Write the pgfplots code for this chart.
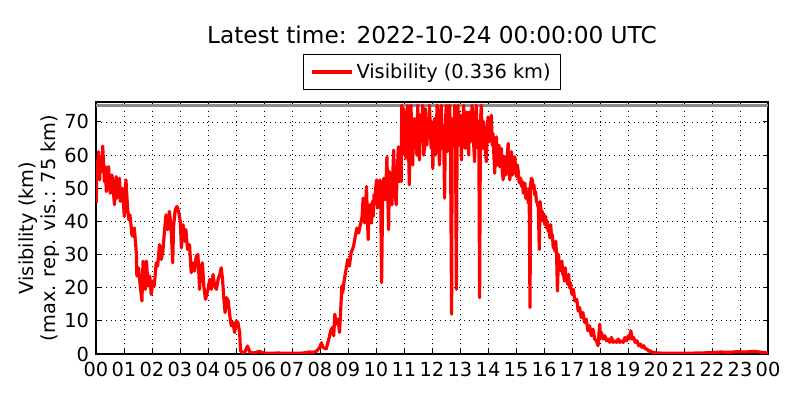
\documentclass[border=0pt]{standalone}
\usepackage{fontspec}
\setmainfont{DejaVu Sans}
\usepackage{pgfplots}
\pgfplotsset{compat=1.18}
\begin{document}
\begin{tikzpicture}
\useasboundingbox (0,0) rectangle (8in,4in);
\node[font=\fontsize{16.8}{20}\selectfont] at (4.32in,3.65in) {Latest time: 2022-10-24 00:00:00 UTC};
\begin{axis}[
  at={(0.96in,0.46in)}, anchor=south west,
  scale only axis, width=6.72in, height=2.52in,
  xmin=0, xmax=24, ymin=0, ymax=76,
  xtick={0,...,24},
  xticklabels={00,01,02,03,04,05,06,07,08,09,10,11,12,13,14,15,16,17,18,19,20,21,22,23,00},
  ytick={0,10,...,70},
  tick align=inside, major tick length=0.05in,
  tick style={black, line width=0.6pt},
  grid=major, grid style={black, line width=0.5pt, dash pattern=on 0.7pt off 2.8pt},
  axis line style={black, line width=0.8pt},
  ticklabel style={font=\fontsize{14}{16}\selectfont},
  xticklabel style={yshift=-2.5pt},
  yticklabel style={xshift=-1.5pt},
  /pgf/number format/assume math mode=true,
  ylabel={Visibility (km)\\(max. rep. vis.: 75 km)},
  ylabel style={align=center, font=\fontsize{14}{16}\selectfont, at={(axis description cs:-0.085,0.5)}, anchor=center},
  legend style={at={(0.5,1.119)}, anchor=center, draw=black, line width=0.8pt, font=\fontsize{14}{16}\selectfont, inner xsep=5pt, inner ysep=4.5pt},
  legend image code/.code={\draw[#1] (0in,0in) -- (0.4in,0in);},
]
\addplot[black!45, line width=2.6pt, forget plot] coordinates {(0,75)(24,75)};
\addplot[red, line width=2.3pt, line join=round] coordinates {
(0.01,45.5)(0.03,58)(0.06,56.5)(0.09,61)(0.13,52.5)(0.15,57)(0.18,59.5)(0.21,55)(0.24,62.7)(0.27,57.5)(0.3,52)(0.33,56.5)(0.37,49)(0.41,55)(0.45,56.5)(0.48,51)(0.51,48.5)(0.54,52)(0.57,54)(0.61,50)(0.66,45)(0.69,51)(0.72,53.5)(0.75,47)(0.78,48.5)(0.81,52)(0.84,53)(0.87,46)(0.9,47.5)(0.95,50)(1.01,41.5)(1.04,47)(1.07,52.5)(1.11,46.5)(1.14,43)(1.17,40.5)(1.21,42)(1.25,39)(1.28,36)(1.32,35.5)(1.37,38)(1.44,30.5)(1.46,23.5)(1.52,26)(1.58,20.5)(1.64,16)(1.68,28)(1.72,22)(1.76,19.5)(1.8,28)(1.86,20.5)(1.92,23.5)(1.97,18)(2.04,22)(2.08,20.5)(2.15,27.5)(2.2,26.5)(2.27,33)(2.33,28.5)(2.39,31)(2.44,36.5)(2.5,42)(2.56,37.5)(2.62,43)(2.68,38.5)(2.74,27.5)(2.77,38.5)(2.83,43.5)(2.89,44.5)(2.95,43)(3.01,40)(3.05,32)(3.11,39)(3.17,34)(3.21,37.5)(3.27,31.5)(3.34,33)(3.4,24.5)(3.45,27.5)(3.52,25)(3.58,29.5)(3.64,30)(3.7,19.5)(3.74,26)(3.8,27.5)
(3.85,20.5)(3.91,16.5)(4.0,19.5)(4.06,22.5)(4.12,19.5)(4.18,24)(4.24,20.5)(4.3,19.5)(4.36,22.5)(4.42,24)(4.47,26)(4.52,22.5)(4.56,17.5)(4.61,12.5)(4.66,17)(4.72,16)(4.78,11.5)(4.83,8.5)(4.89,9.5)(4.95,6.5)(5.01,10)(5.07,9.5)(5.13,6.5)(5.16,1)(5.22,0.5)(5.31,0.5)(5.41,2.4)(5.5,0.5)(5.62,0.3)(5.72,0.5)(5.83,0.8)(5.98,0.3)
(6.2,0.2)(6.5,0.3)(6.8,0.2)(7.1,0.2)(7.4,0.3)(7.63,0.6)
(7.75,0.5)(7.87,0.8)(7.99,2)(8.05,3.4)(8.1,2)(8.22,1.5)(8.32,4.6)(8.38,7)(8.44,8)(8.49,5.5)(8.53,12)(8.58,9)(8.64,10.5)(8.7,6.5)(8.74,13.5)(8.78,20.5)(8.81,18.5)(8.87,22.5)(8.93,25.5)(8.99,28.5)(9.05,26.5)(9.11,30.5)(9.2,32.5)(9.26,35.5)(9.32,38)(9.38,36.5)(9.44,39)(9.5,41)(9.54,47)(9.6,39.5)(9.66,50.5)(9.69,42)(9.72,34.5)(9.75,44)(9.78,45)(9.81,40)(9.84,39.5)(9.87,46)(9.9,41.5)(9.93,48)(9.96,45.5)(9.99,50)(10.02,52.5)(10.05,44)(10.08,47)(10.11,51)(10.14,52.5)(10.17,46)(10.2,21.5)(10.24,49.5)(10.28,53)(10.33,46.5)(10.36,52)(10.39,59.5)(10.42,48)(10.45,37.5)(10.48,55)(10.51,51)(10.54,48)(10.57,45)(10.6,54)(10.63,61.5)(10.67,50)(10.72,45)(10.76,55)(10.8,62.5)(10.83,52)(10.86,54)
(10.9,52)(10.92,75)(10.94,60)(10.97,63)(10.99,74)(11.02,71)(11.04,62)(11.07,59)(11.1,70)(11.13,75)(11.16,63)(11.19,51)(11.22,66)(11.25,75)(11.28,64)(11.31,57)(11.34,68)(11.37,71)(11.4,62)(11.43,67)(11.46,60)(11.49,75)(11.52,66)(11.55,58.5)(11.58,72)(11.61,64)(11.64,70)(11.67,75)(11.7,60)(11.73,62)(11.76,74)(11.79,67)(11.82,63)(11.85,71)(11.88,66)(11.91,75)(11.94,68)(11.97,62)(12.0,70)(12.03,56)(12.06,66)(12.09,71)(12.12,60)(12.15,64)(12.18,75)(12.21,73.5)(12.24,63)(12.27,57)(12.3,68)(12.33,75)(12.36,62)(12.39,69)(12.42,64)(12.45,47)(12.48,70)(12.51,75)(12.54,61)(12.57,67)(12.6,72)(12.63,75)(12.66,65)(12.7,12)(12.72,68)(12.75,71)(12.78,63)(12.81,75)(12.84,66)(12.87,19.5)(12.9,70)(12.93,75)(12.96,63)(12.99,67)(13.02,72)(13.05,58.5)(13.08,70)(13.1,65)(13.13,75)(13.16,71)(13.19,62)(13.22,67)(13.25,73)(13.28,65)(13.31,60)(13.34,73)(13.37,64)(13.4,67)(13.43,75)(13.46,71)(13.49,63)(13.52,58)(13.55,70)(13.58,75)(13.61,66)(13.64,62)(13.67,70)(13.7,17)(13.73,70)(13.76,75)(13.79,66)(13.82,62)(13.85,70)(13.88,67)(13.91,61)(13.94,58)(13.97,66)
(14.0,71.5)(14.03,64)(14.06,65)(14.09,70)(14.12,72)(14.15,63)(14.18,66.5)(14.21,60)(14.24,54.5)(14.27,62)(14.3,65.5)(14.33,57)(14.36,60.5)(14.39,63)(14.42,56.5)(14.45,59)(14.48,62)(14.51,55)(14.54,52.5)(14.57,58)(14.6,59.5)(14.63,54)(14.66,55)(14.69,60)(14.72,63.5)(14.75,56)(14.78,52.5)(14.81,57)(14.84,61)(14.87,54)(14.9,55.5)(14.93,58)(14.96,59.5)(14.99,55)(15.02,53.5)(15.05,57)(15.08,55)(15.11,52)(15.14,51.5)(15.17,53)(15.2,50.5)(15.23,52)(15.26,48.5)(15.29,50)(15.32,51.5)(15.35,47)(15.38,49)(15.41,48)(15.44,45.5)(15.47,50)(15.5,14)(15.52,51)(15.55,53)(15.58,52.5)(15.61,50)(15.64,51)(15.67,48)(15.7,49)(15.73,46)(15.76,45.5)(15.8,44)(15.83,31.5)(15.86,46)(15.88,44.5)(15.91,42)(15.94,43)(15.97,40)(16.0,42)(16.03,39)(16.06,41.5)(16.09,38)(16.12,40)(16.15,37)(16.18,38)(16.21,35)(16.24,39)(16.27,35)(16.3,36)(16.33,32)(16.36,33.5)(16.39,31)(16.42,34)(16.45,30)(16.48,19)(16.52,30)(16.55,26)(16.58,27)(16.61,25)(16.64,28)(16.67,24)(16.7,24)(16.73,22)(16.76,26)(16.79,22)(16.82,23.5)(16.85,21)(16.88,24)(16.91,20)(16.94,21.5)(17.0,18)(17.05,19.5)(17.1,16)(17.17,16.5)(17.22,13)(17.27,14)
(17.33,11)(17.39,12.5)(17.45,9.5)(17.51,10.5)(17.57,7)(17.63,8.5)(17.69,5.5)(17.75,7.5)(17.81,4.5)(17.87,4)(17.93,2.5)(17.99,9)(18.02,5)(18.05,6.5)(18.11,4.5)(18.17,5.5)(18.23,4)(18.29,4.5)(18.35,3.5)(18.41,5)(18.47,3.5)(18.53,4)(18.59,3.5)(18.65,4.5)(18.71,3.5)(18.77,4)(18.83,3.5)(18.89,5)(18.95,4)(19.01,5.5)(19.05,4.5)(19.1,7)(19.15,4.5)(19.2,5)(19.26,3.5)(19.32,4)(19.38,2.5)(19.44,3)(19.5,2)(19.56,2.5)(19.62,1.5)(19.68,1.5)(19.74,0.8)(19.8,1)(19.86,0.5)(19.92,0.5)(20.04,0.3)(20.5,0.2)(21,0.2)(21.5,0.3)(22,0.4)(22.3,0.6)(22.6,0.5)(22.9,0.7)(23.2,0.6)(23.5,0.8)(23.8,0.5)(24,0.3)
};
\addlegendentry{Visibility (0.336 km)}
\end{axis}
\end{tikzpicture}
\end{document}
